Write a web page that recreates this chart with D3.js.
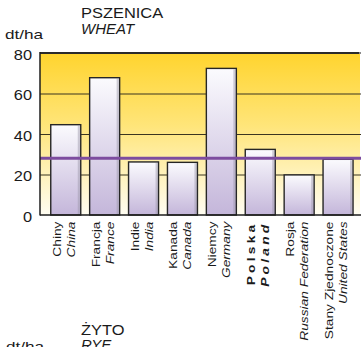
<!DOCTYPE html>
<html><head><meta charset="utf-8">
<script src="https://cdn.jsdelivr.net/npm/d3@7"></script>
<style>
body{margin:0;background:#fff}
svg{display:block}
text{font-family:"Liberation Sans",Arial,Helvetica,sans-serif;fill:#1a1a1a}
</style>
</head><body>
<svg id="chart" width="361" height="347"></svg>
<script>
// Wheat yields, dt/ha, by country
const countriesPl = ["Chiny", "Francja", "Indie", "Kanada", "Niemcy", "Polska", "Rosja", "Stany Zjednoczone"];
const countriesEn = ["China", "France", "India", "Canada", "Germany", "Poland", "Russian Federation", "United States"];
const wheatYield = [44.6, 67.8, 26.2, 26.0, 72.4, 32.4, 19.8, 27.5];
const worldAverage = [28];
const yTicks = [0, 20, 40, 60, 80];
const highlighted = ["Polska"];

const svg = d3.select("#chart");
const plotLeft = 40, plotRight = 360, plotTop = 53, plotBottom = 215;
// the lettering is a wide grotesque: stretch Liberation Sans along the line
const wide = 1.25;

const x = d3.scaleBand().domain(countriesPl)
  .range([46.3, 357.5]).paddingInner(0.229).paddingOuter(0.1145);
const y = d3.scaleLinear().domain([0, 80]).range([plotBottom, plotTop]);

const defs = svg.append("defs");
const bg = defs.append("linearGradient").attr("id", "bgGrad")
  .attr("x1", 0).attr("y1", 0).attr("x2", 0).attr("y2", 1);
bg.append("stop").attr("offset", "0%").attr("stop-color", "#ffd42e");
bg.append("stop").attr("offset", "45%").attr("stop-color", "#ffe57a");
bg.append("stop").attr("offset", "100%").attr("stop-color", "#fffdf2");

const barG = defs.append("linearGradient").attr("id", "barGrad")
  .attr("x1", 0).attr("y1", 0).attr("x2", 0).attr("y2", 1);
barG.append("stop").attr("offset", "0%").attr("stop-color", "#fbfbfe");
barG.append("stop").attr("offset", "100%").attr("stop-color", "#c4b6da");

// plot background
svg.append("rect").attr("x", plotLeft).attr("y", plotTop)
  .attr("width", plotRight - plotLeft).attr("height", plotBottom - plotTop)
  .attr("fill", "url(#bgGrad)");

// horizontal grid
svg.append("g").attr("transform", `translate(${plotLeft},0)`)
  .call(d3.axisLeft(y).tickValues(yTicks.slice(1, -1)).tickSize(-(plotRight - plotLeft + 1)).tickFormat(""))
  .call(g => g.select(".domain").remove())
  .call(g => g.selectAll("line").attr("stroke", "#3b3520").attr("stroke-width", 1.2));

// bars
const data = countriesPl.map((c, i) => ({c, en: countriesEn[i], v: wheatYield[i]}));
const bars = svg.append("g").selectAll("g").data(data).join("g");
bars.append("rect")
  .attr("x", d => x(d.c)).attr("y", d => y(d.v))
  .attr("width", x.bandwidth()).attr("height", d => y(0) - y(d.v))
  .attr("fill", "url(#barGrad)");
bars.append("rect")
  .attr("x", d => x(d.c) + x.bandwidth() - 3).attr("y", d => y(d.v) + 1)
  .attr("width", 2.2).attr("height", d => y(0) - y(d.v) - 1)
  .attr("fill", "#9a94a6").attr("opacity", 0.45);
bars.append("rect")
  .attr("x", d => x(d.c)).attr("y", d => y(d.v))
  .attr("width", x.bandwidth()).attr("height", d => y(0) - y(d.v))
  .attr("fill", "none").attr("stroke", "#262626").attr("stroke-width", 1.4);

// world average line
svg.append("g").selectAll("line").data(worldAverage).join("line")
  .attr("x1", plotLeft).attr("x2", plotRight + 1)
  .attr("y1", d => y(d)).attr("y2", d => y(d))
  .attr("stroke", "#7d4c9f").attr("stroke-width", 3);

// frame
svg.append("line").attr("x1", plotLeft).attr("x2", plotRight - 1).attr("y1", plotTop).attr("y2", plotTop)
  .attr("stroke", "#2b2b2b").attr("stroke-width", 2);
svg.append("line").attr("x1", plotRight - 1).attr("x2", plotRight + 1).attr("y1", plotTop).attr("y2", plotTop)
  .attr("stroke", "#8a8a8a").attr("stroke-width", 2);
svg.append("line").attr("x1", plotLeft).attr("x2", plotLeft).attr("y1", plotTop - 1).attr("y2", plotBottom + 0.5)
  .attr("stroke", "#1e1e1e").attr("stroke-width", 1.5);
svg.append("line").attr("x1", plotLeft).attr("x2", plotRight + 1).attr("y1", plotBottom).attr("y2", plotBottom)
  .attr("stroke", "#1e1e1e").attr("stroke-width", 1.5);

// y axis labels
svg.append("g").attr("transform", `translate(${plotLeft},0)`)
  .call(d3.axisLeft(y).tickValues(yTicks).tickSize(0).tickPadding(8))
  .call(g => g.select(".domain").remove())
  .call(g => g.selectAll("text").attr("x", null).attr("font-size", 14).attr("fill", "#1a1a1a")
    .attr("transform", "translate(-8,0) scale(1.17,1)")
    .style("font-family", '"Liberation Sans",Arial,sans-serif').attr("dy", "0.45em"));

// category labels, rotated; each line is widened to the lettering's proportions
function widen(sel) {
  sel.each(function () {
    const len = this.getComputedTextLength();
    d3.select(this).attr("textLength", len * wide).attr("lengthAdjust", "spacingAndGlyphs");
  });
}
const lab = svg.append("g").selectAll("g").data(data).join("g")
  .attr("transform", d => `translate(${x(d.c) + x.bandwidth() / 2},221.5) rotate(-90)`);
lab.append("text").attr("text-anchor", "end").attr("y", -5)
  .attr("font-size", 11)
  .attr("font-weight", d => highlighted.includes(d.c) ? "bold" : null)
  .attr("letter-spacing", d => highlighted.includes(d.c) ? 2.6 : 0)
  .text(d => d.c).call(widen);
lab.append("text").attr("text-anchor", "end").attr("y", 9)
  .attr("font-size", 11).attr("font-style", "italic")
  .attr("font-weight", d => highlighted.includes(d.c) ? "bold" : null)
  .attr("letter-spacing", d => highlighted.includes(d.c) ? 2.6 : 0)
  .text(d => d.en).call(widen);

// titles
svg.append("text").attr("x", 81).attr("y", 18.5).attr("font-size", 15.5)
  .attr("transform", "translate(81,0) scale(1.06,1) translate(-81,0)").text("PSZENICA");
svg.append("text").attr("x", 81).attr("y", 33.5).attr("font-size", 15).attr("font-style", "italic").text("WHEAT");
svg.append("text").attr("x", 5).attr("y", 39).attr("font-size", 13.5)
  .attr("transform", "translate(5,0) scale(1.27,1) translate(-5,0)").text("dt/ha");

// heading of the next panel
svg.append("text").attr("x", 81).attr("y", 335).attr("font-size", 15.5)
  .attr("transform", "translate(81,0) scale(1.06,1) translate(-81,0)").text("ŻYTO");
svg.append("text").attr("x", 81).attr("y", 350).attr("font-size", 15).attr("font-style", "italic").text("RYE");
svg.append("text").attr("x", 6).attr("y", 351.5).attr("font-size", 13.5)
  .attr("transform", "translate(6,0) scale(1.27,1) translate(-6,0)").text("dt/ha");
</script>
</body></html>
